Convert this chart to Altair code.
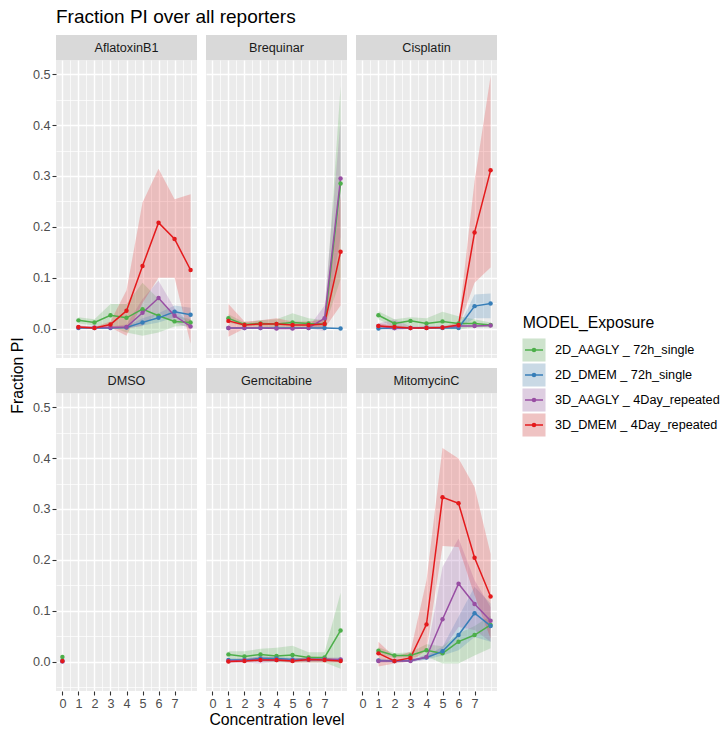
import altair as alt
import pandas as pd

FONT = "Liberation Sans"

# ---------------- data ----------------
series = ["2D_AAGLY _ 72h_single", "2D_DMEM _ 72h_single",
          "3D_AAGLY _ 4Day_repeated", "3D_DMEM _ 4Day_repeated"]
series_colors = ["#4DAF4A", "#377EB8", "#984EA3", "#E41A1C"]
drugs = ["AflatoxinB1", "Brequinar", "Cisplatin", "DMSO", "Gemcitabine", "MitomycinC"]
levels = [1, 2, 3, 4, 5, 6, 7, 8]
dmso_levels = [0]
x_tick_values = [0, 1, 2, 3, 4, 5, 6, 7]
y_tick_values = [0.0, 0.1, 0.2, 0.3, 0.4, 0.5]

# rows: green, blue, purple, red series
aflatoxin_mean = [[0.016, 0.012, 0.026, 0.021, 0.038, 0.025, 0.014, 0.012],
                  [0.001, 0.001, 0.001, 0.002, 0.012, 0.021, 0.033, 0.027],
                  [0.002, 0.002, 0.002, 0.003, 0.031, 0.060, 0.025, 0.004],
                  [0.003, 0.001, 0.008, 0.035, 0.123, 0.208, 0.176, 0.115]]
aflatoxin_lo = [[0.010, 0.006, 0.004, -0.008, -0.014, -0.008, 0.004, 0.006],
                [0.000, 0.000, 0.000, 0.000, 0.006, 0.012, 0.022, 0.012],
                [0.000, 0.000, 0.000, 0.000, 0.005, 0.031, 0.012, 0.000],
                [0.000, -0.001, 0.002, -0.014, 0.050, 0.100, 0.100, -0.030]]
aflatoxin_hi = [[0.022, 0.018, 0.048, 0.048, 0.090, 0.058, 0.026, 0.018],
                [0.002, 0.002, 0.002, 0.004, 0.020, 0.030, 0.045, 0.041],
                [0.004, 0.004, 0.004, 0.008, 0.058, 0.094, 0.040, 0.008],
                [0.006, 0.003, 0.014, 0.075, 0.248, 0.314, 0.254, 0.264]]

brequinar_mean = [[0.020, 0.008, 0.010, 0.009, 0.012, 0.010, 0.009, 0.285],
                  [0.001, 0.001, 0.001, 0.001, 0.001, 0.001, 0.001, 0.000],
                  [0.001, 0.001, 0.001, 0.000, 0.000, 0.001, 0.020, 0.295],
                  [0.015, 0.007, 0.009, 0.009, 0.007, 0.007, 0.009, 0.151]]
brequinar_lo = [[0.012, 0.004, 0.004, 0.002, 0.000, 0.002, 0.002, 0.097],
                [0.000, 0.000, 0.000, 0.000, 0.000, 0.000, 0.000, -0.001],
                [0.000, 0.000, 0.000, -0.001, -0.001, 0.000, -0.005, 0.180],
                [-0.016, 0.000, 0.002, 0.000, 0.000, 0.000, 0.000, 0.045]]
brequinar_hi = [[0.028, 0.012, 0.016, 0.018, 0.030, 0.020, 0.016, 0.477],
                [0.002, 0.002, 0.002, 0.002, 0.002, 0.002, 0.002, 0.001],
                [0.002, 0.002, 0.002, 0.001, 0.001, 0.002, 0.045, 0.410],
                [0.048, 0.014, 0.016, 0.020, 0.014, 0.014, 0.018, 0.260]]

cisplatin_mean = [[0.026, 0.010, 0.015, 0.010, 0.014, 0.010, 0.010, 0.007],
                  [0.000, 0.001, 0.001, 0.001, 0.001, 0.001, 0.044, 0.049],
                  [0.005, 0.001, 0.001, 0.002, 0.002, 0.005, 0.005, 0.006],
                  [0.005, 0.003, 0.001, 0.001, 0.002, 0.007, 0.189, 0.311]]
cisplatin_lo = [[0.018, 0.002, 0.000, 0.000, -0.002, -0.002, 0.002, 0.002],
                [-0.002, 0.000, 0.000, 0.000, 0.000, 0.000, 0.020, 0.020],
                [0.000, -0.004, -0.001, 0.000, 0.000, 0.002, 0.003, 0.004],
                [0.000, 0.000, -0.001, -0.001, 0.000, 0.002, 0.090, 0.120]]
cisplatin_hi = [[0.034, 0.018, 0.022, 0.020, 0.033, 0.024, 0.018, 0.012],
                [0.002, 0.002, 0.002, 0.002, 0.002, 0.002, 0.067, 0.069],
                [0.010, 0.018, 0.004, 0.004, 0.004, 0.008, 0.007, 0.008],
                [0.010, 0.006, 0.003, 0.003, 0.004, 0.012, 0.290, 0.496]]

dmso_mean = [[0.009], [0.001], [0.000], [0.001]]
dmso_lo = [[0.009], [0.001], [0.000], [0.001]]
dmso_hi = [[0.009], [0.001], [0.000], [0.001]]

gemcitabine_mean = [[0.014, 0.010, 0.014, 0.011, 0.013, 0.008, 0.008, 0.061],
                    [0.003, 0.003, 0.006, 0.006, 0.004, 0.004, 0.004, 0.003],
                    [0.001, 0.002, 0.003, 0.003, 0.002, 0.004, 0.004, 0.004],
                    [0.000, 0.001, 0.003, 0.003, 0.001, 0.004, 0.003, 0.001]]
gemcitabine_lo = [[0.006, 0.000, 0.000, -0.002, -0.002, -0.002, -0.002, -0.014],
                  [0.000, 0.000, 0.002, 0.002, 0.001, 0.001, 0.001, 0.000],
                  [-0.003, -0.002, -0.004, -0.001, -0.002, 0.000, 0.000, 0.000],
                  [-0.002, -0.002, 0.000, 0.000, -0.002, -0.002, -0.002, -0.002]]
gemcitabine_hi = [[0.020, 0.020, 0.025, 0.027, 0.031, 0.018, 0.018, 0.135],
                  [0.006, 0.006, 0.010, 0.010, 0.007, 0.007, 0.007, 0.006],
                  [0.005, 0.006, 0.010, 0.007, 0.006, 0.008, 0.008, 0.008],
                  [0.002, 0.004, 0.008, 0.008, 0.004, 0.010, 0.008, 0.004]]

mitomycin_mean = [[0.021, 0.012, 0.012, 0.022, 0.016, 0.039, 0.052, 0.072],
                  [0.002, 0.001, 0.002, 0.008, 0.020, 0.052, 0.095, 0.070],
                  [0.001, 0.001, 0.001, 0.009, 0.083, 0.153, 0.113, 0.080],
                  [0.016, 0.001, 0.007, 0.073, 0.323, 0.311, 0.204, 0.128]]
mitomycin_lo = [[0.014, 0.008, 0.008, 0.010, -0.004, -0.004, 0.012, 0.026],
                [-0.002, -0.002, -0.001, 0.004, 0.012, 0.022, 0.048, 0.039],
                [-0.002, -0.001, -0.001, 0.004, 0.022, 0.068, 0.062, 0.039],
                [-0.010, -0.004, 0.000, 0.022, 0.227, 0.225, 0.130, 0.045]]
mitomycin_hi = [[0.028, 0.016, 0.018, 0.034, 0.030, 0.055, 0.070, 0.090],
                [0.006, 0.004, 0.005, 0.012, 0.029, 0.088, 0.147, 0.114],
                [0.004, 0.003, 0.003, 0.014, 0.186, 0.242, 0.160, 0.107],
                [0.039, 0.009, 0.019, 0.160, 0.420, 0.399, 0.343, 0.212]]

panel_values = {
    "AflatoxinB1": (levels, aflatoxin_mean, aflatoxin_lo, aflatoxin_hi),
    "Brequinar": (levels, brequinar_mean, brequinar_lo, brequinar_hi),
    "Cisplatin": (levels, cisplatin_mean, cisplatin_lo, cisplatin_hi),
    "DMSO": (dmso_levels, dmso_mean, dmso_lo, dmso_hi),
    "Gemcitabine": (levels, gemcitabine_mean, gemcitabine_lo, gemcitabine_hi),
    "MitomycinC": (levels, mitomycin_mean, mitomycin_lo, mitomycin_hi),
}

rows = []
for drug in drugs:
    lv, means, los, his = panel_values[drug]
    for s, m_list, l_list, h_list in zip(series, means, los, his):
        for x, m, lo, hi in zip(lv, m_list, l_list, h_list):
            rows.append({"drug": drug, "series": s, "level": x,
                         "value": m, "lo": lo, "hi": hi})
df = pd.DataFrame(rows)

# ---------------- layout constants ----------------
PW, PH = 141, 298
STRIP = 25
x_scale = alt.Scale(domain=[-0.4, 8.4], nice=False, zero=False)
y_scale = alt.Scale(domain=[-0.058, 0.528], nice=False, zero=False)
color_scale = alt.Scale(domain=series, range=series_colors)
x_minor = [0.5, 1.5, 2.5, 3.5, 4.5, 5.5, 6.5, 7.5, 8]
y_minor = [-0.05, 0.05, 0.15, 0.25, 0.35, 0.45]


def panel(drug, left, bottom, xtitle=None):
    d = df[df.drug == drug]
    base = alt.Chart(d)
    minor = base.mark_point(opacity=0).encode(
        x=alt.X("level:Q", scale=x_scale,
                axis=alt.Axis(values=x_minor, orient="bottom", grid=True,
                              gridColor="white", gridWidth=0.7, labels=False,
                              ticks=False, domain=False, title=None)),
        y=alt.Y("value:Q", scale=y_scale,
                axis=alt.Axis(values=y_minor, orient="left", grid=True,
                              gridColor="white", gridWidth=0.7, labels=False,
                              ticks=False, domain=False, title=None)),
    )
    xaxis = alt.Axis(values=x_tick_values, orient="bottom", grid=True,
                     gridColor="white", gridWidth=1.4, labels=bottom,
                     ticks=bottom, domain=False, format="d",
                     title=xtitle, labelAngle=0)
    yaxis = alt.Axis(values=y_tick_values, orient="left", grid=True,
                     gridColor="white", gridWidth=1.4, labels=left,
                     ticks=left, domain=False, format=".1f", title=None)
    color = alt.Color("series:N", scale=color_scale, legend=None)
    ribbon = base.mark_area(opacity=0.22).encode(
        x=alt.X("level:Q", scale=x_scale, axis=xaxis),
        y=alt.Y("lo:Q", scale=y_scale, axis=yaxis),
        y2="hi:Q",
        color=color,
    )
    line = base.mark_line(strokeWidth=1.5).encode(
        x=alt.X("level:Q", scale=x_scale, axis=None),
        y=alt.Y("value:Q", scale=y_scale, axis=None),
        color=color,
    )
    pts = base.mark_circle(size=20, opacity=1).encode(
        x=alt.X("level:Q", scale=x_scale, axis=None),
        y=alt.Y("value:Q", scale=y_scale, axis=None),
        color=color,
    )
    strip_df = pd.DataFrame({"drug": [drug]})
    strip = alt.Chart(strip_df).mark_rect(color="#D9D9D9").encode(
        x=alt.value(0), x2=alt.value(PW), y=alt.value(-STRIP), y2=alt.value(0))
    strip_text = alt.Chart(strip_df).mark_text(
        font=FONT, fontSize=12.65, color="#1A1A1A", baseline="middle").encode(
        text="drug:N", x=alt.value(PW / 2), y=alt.value(-STRIP / 2))
    return alt.layer(minor, ribbon, line, pts, strip, strip_text).resolve_axis(
        x="independent", y="independent").properties(
        width=PW, height=PH, view=alt.ViewBackground(fill="#EBEBEB", stroke=None))


row1 = alt.hconcat(panel("AflatoxinB1", True, False),
                   panel("Brequinar", False, False),
                   panel("Cisplatin", False, False), spacing=9)
row2 = alt.hconcat(panel("DMSO", True, True),
                   panel("Gemcitabine", False, True, "Concentration level"),
                   panel("MitomycinC", False, True), spacing=9)
grid = alt.vconcat(row1, row2, spacing=10)

TOTAL_H = 631

ytitle = alt.Chart(pd.DataFrame({"t": ["Fraction PI"]})).mark_text(
    font=FONT, fontSize=15.8, angle=270, color="black", baseline="middle").encode(
    text="t:N", x=alt.value(17.5), y=alt.value(TOTAL_H / 2)).properties(
    width=26, height=TOTAL_H)

leg_df = pd.DataFrame({"series": series})
leg_y = alt.Y("series:N", axis=None,
              scale=alt.Scale(type="point", domain=series, range=[290, 365], padding=0))
leg_color = alt.Color("series:N", scale=color_scale, legend=None)
leg_base = alt.Chart(leg_df)
leg_bg = leg_base.mark_square(size=529, opacity=1, color="#F2F2F2").encode(
    y=leg_y, x=alt.value(31))
leg_box = leg_base.mark_square(size=529, opacity=0.22).encode(
    y=leg_y, x=alt.value(31), color=leg_color)
leg_line = leg_base.mark_rule(strokeWidth=1.5).encode(
    y=leg_y, x=alt.value(22), x2=alt.value(40), color=leg_color)
leg_pt = leg_base.mark_circle(size=20, opacity=1).encode(
    y=leg_y, x=alt.value(31), color=leg_color)
leg_txt = leg_base.mark_text(font=FONT, fontSize=12.65, align="left",
                             baseline="middle", color="black").encode(
    y=leg_y, x=alt.value(52), text="series:N")
leg_title = alt.Chart(pd.DataFrame({"t": ["MODEL_Exposure"]})).mark_text(
    font=FONT, fontSize=15.8, align="left", baseline="middle", color="black").encode(
    text="t:N", x=alt.value(19.7), y=alt.value(262.5))
legend = alt.layer(leg_bg, leg_box, leg_line, leg_pt, leg_txt, leg_title).properties(
    width=210, height=TOTAL_H)

chart = alt.hconcat(ytitle, grid, legend, spacing=6).properties(
    title=alt.TitleParams(text="Fraction PI over all reporters", anchor="start",
                          dx=56, fontSize=19, font=FONT, fontWeight="normal",
                          color="black", offset=8),
    padding={"left": 0, "top": 8, "right": 0, "bottom": 2},
).configure_view(stroke=None).configure_axis(
    labelFont=FONT, labelFontSize=12.65, labelColor="#4D4D4D",
    tickColor="#333333", tickSize=4, tickWidth=1.1, labelPadding=2,
    titleFont=FONT, titleFontSize=15.8, titleFontWeight="normal",
    titleColor="black", titlePadding=3, minExtent=0,
)

chart.save("out.html", embed_options={"renderer": "svg", "actions": False})
